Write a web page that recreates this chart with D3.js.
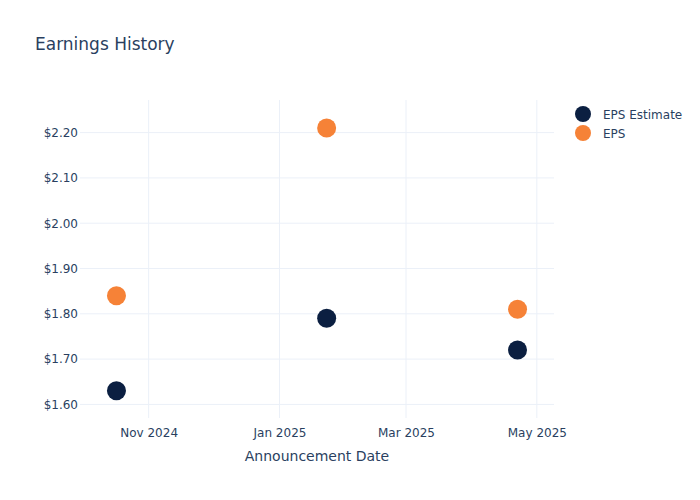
<!DOCTYPE html>
<html>
<head>
<meta charset="utf-8">
<script src="https://cdn.jsdelivr.net/npm/d3@7"></script>
<style>
  body { margin: 0; background: #fff; }
  text { font-family: "DejaVu Sans", verdana, arial, sans-serif; fill: #2a3f5f; }
</style>
</head>
<body>
<div id="chart"></div>
<script>
// Data
const dates = ["2024-10-17", "2025-01-23", "2025-04-22"];
const epsEstimate = [1.63, 1.79, 1.72];
const eps = [1.84, 2.21, 1.81];
const yTicks = [1.6, 1.7, 1.8, 1.9, 2.0, 2.1, 2.2];
const seriesNames = ["EPS Estimate", "EPS"];
const seriesColors = ["#0b1f41", "#f68237"];

const width = 700;
const height = 500;
const margin = { top: 100, right: 146, bottom: 82, left: 80 };

const svg = d3.select("#chart")
    .append("svg")
    .attr("width", width)
    .attr("height", height);

const parse = d3.utcParse("%Y-%m-%d");

// Scales
const x = d3.scaleUtc()
    .domain([parse("2024-09-30"), parse("2025-05-09")])
    .range([margin.left, width - margin.right]);

const y = d3.scaleLinear()
    .domain([1.57, 2.272])
    .range([height - margin.bottom, margin.top]);

// Grid
const xTicks = x.ticks(d3.utcMonth.every(2));

svg.append("g")
    .selectAll("line")
    .data(yTicks)
    .enter()
    .append("line")
    .attr("x1", margin.left)
    .attr("x2", width - margin.right)
    .attr("y1", d => y(d))
    .attr("y2", d => y(d))
    .attr("stroke", "#ebf0f8")
    .attr("stroke-width", 1);

svg.append("g")
    .selectAll("line")
    .data(xTicks)
    .enter()
    .append("line")
    .attr("x1", d => x(d))
    .attr("x2", d => x(d))
    .attr("y1", margin.top)
    .attr("y2", height - margin.bottom)
    .attr("stroke", "#ebf0f8")
    .attr("stroke-width", 1);

// Axes
const xAxis = svg.append("g")
    .attr("transform", `translate(0,${height - margin.bottom})`)
    .call(d3.axisBottom(x)
        .tickValues(xTicks)
        .tickSize(0)
        .tickPadding(10)
        .tickFormat(d3.utcFormat("%b %Y")));
xAxis.select(".domain").remove();
xAxis.selectAll("text").attr("font-size", 12).style("fill", "#2a3f5f");

const yAxis = svg.append("g")
    .attr("transform", `translate(${margin.left},0)`)
    .call(d3.axisLeft(y)
        .tickValues(yTicks)
        .tickSize(0)
        .tickPadding(2)
        .tickFormat(d => "$" + d3.format(".2f")(d)));
yAxis.select(".domain").remove();
yAxis.selectAll("text").attr("font-size", 12).style("fill", "#2a3f5f");

// Points
const series = [epsEstimate, eps];
series.forEach((values, i) => {
    svg.append("g")
        .selectAll("circle")
        .data(values.map((v, j) => ({ date: parse(dates[j]), value: v })))
        .enter()
        .append("circle")
        .attr("cx", d => x(d.date))
        .attr("cy", d => y(d.value))
        .attr("r", 9.5)
        .attr("fill", seriesColors[i]);
});

// Title
svg.append("text")
    .attr("x", 35)
    .attr("y", 50)
    .attr("font-size", 17)
    .text("Earnings History");

// Axis title
svg.append("text")
    .attr("x", (margin.left + width - margin.right) / 2)
    .attr("y", 461)
    .attr("text-anchor", "middle")
    .attr("font-size", 14)
    .text("Announcement Date");

// Legend
const legend = svg.append("g")
    .selectAll("g")
    .data(seriesNames)
    .enter()
    .append("g")
    .attr("transform", (d, i) => `translate(583,${114 + i * 19})`);

legend.append("circle")
    .attr("r", 8)
    .attr("fill", (d, i) => seriesColors[i]);

legend.append("text")
    .attr("x", 20)
    .attr("y", 4.5)
    .attr("font-size", 12)
    .text(d => d);
</script>
</body>
</html>
